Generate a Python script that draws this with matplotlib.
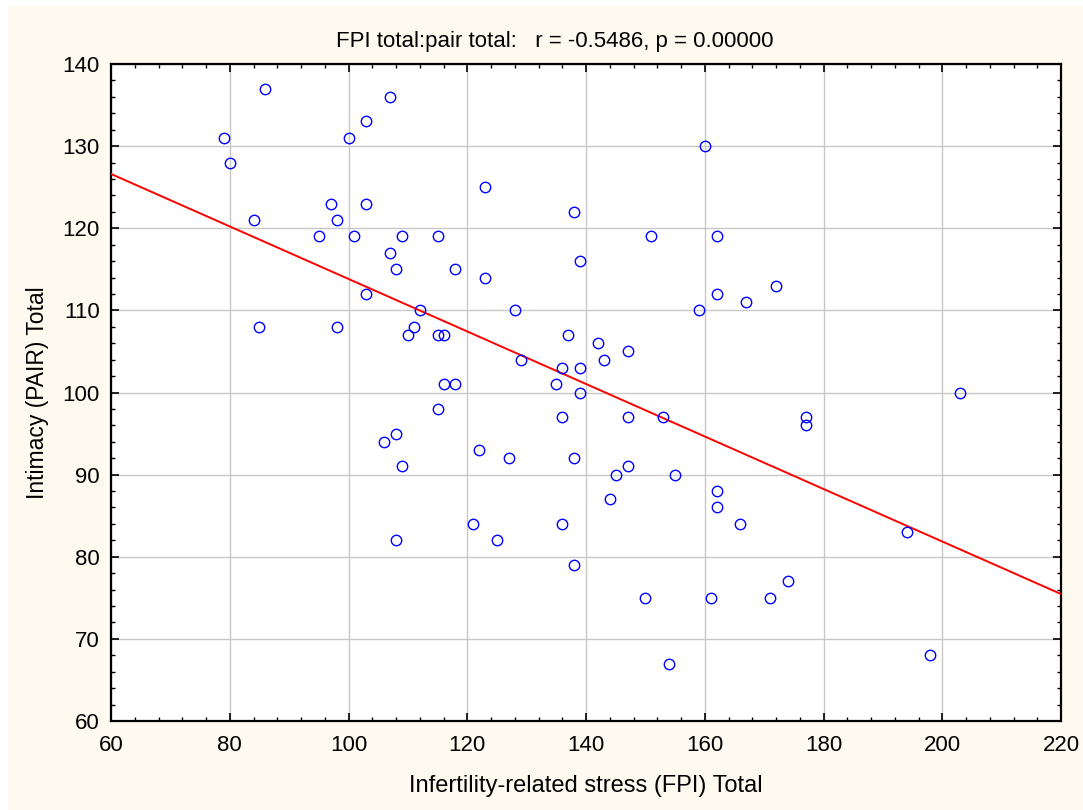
import numpy as np
import matplotlib
matplotlib.use("Agg")
import matplotlib.pyplot as plt
from matplotlib.patches import Rectangle
from matplotlib.ticker import MultipleLocator

plt.rcParams['font.family'] = ['Liberation Sans', 'DejaVu Sans']

fpi_total = [79, 80, 86, 84, 85, 95, 97, 98, 98, 100, 101, 103, 103, 103, 107, 107,
             108, 109, 112, 111, 110, 115, 115, 116, 116, 118, 118, 123, 123, 128,
             129, 115, 106, 108, 109, 122, 127, 121, 125, 108,
             138, 139, 137, 142, 143, 147, 135, 136, 139, 139, 136, 138, 136, 138,
             147, 147, 145, 144, 155, 153, 150, 154, 161, 162, 162, 166, 171, 174,
             177, 177, 194, 198, 203, 160, 151, 162, 162, 167, 172, 159]
pair_total = [131, 128, 137, 121, 108, 119, 123, 121, 108, 131, 119, 133, 123, 112, 136, 117,
              115, 119, 110, 108, 107, 119, 107, 107, 101, 101, 115, 125, 114, 110,
              104, 98, 94, 95, 91, 93, 92, 84, 82, 82,
              122, 116, 107, 106, 104, 105, 101, 103, 103, 100, 97, 92, 84, 79,
              97, 91, 90, 87, 90, 97, 75, 67, 75, 88, 86, 84, 75, 77,
              97, 96, 83, 68, 100, 130, 119, 119, 112, 111, 113, 110]

title_text = "FPI total:pair total:   r = -0.5486, p = 0.00000"
x_label = "Infertility-related stress (FPI) Total"
y_label = "Intimacy (PAIR) Total"

W, H = 1083, 810
fig = plt.figure(figsize=(W / 100, H / 100), dpi=100, facecolor='white')
fig.patches.append(Rectangle((8 / W, 0), 1 - 8 / W, 1 - 6 / H, transform=fig.transFigure,
                             facecolor='#FFFAF0', edgecolor='none', zorder=-10))

ax = fig.add_axes([111 / W, 1 - 721 / H, (1061 - 111) / W, (721 - 64) / H])
ax.set_facecolor('white')

x = np.array(fpi_total, dtype=float)
y = np.array(pair_total, dtype=float)
slope, intercept = np.polyfit(x, y, 1)
xl = np.array([60, 220])
ax.plot(xl, intercept + slope * xl, color='#FF0000', lw=1.4, zorder=3)

ax.plot(x, y, 'o', mfc='none', mec='#0000FF', ms=7.5, mew=1.0, zorder=4)

ax.set_xlim(60, 220)
ax.set_ylim(60, 140)
ax.xaxis.set_major_locator(MultipleLocator(20))
ax.xaxis.set_minor_locator(MultipleLocator(4))
ax.yaxis.set_major_locator(MultipleLocator(10))
ax.yaxis.set_minor_locator(MultipleLocator(2))
ax.grid(True, which='major', color='#C8C8C8', lw=1.0, zorder=0)
ax.set_axisbelow(True)
ax.tick_params(which='both', direction='in', top=True, right=True, colors='black',
               labelsize=16)
ax.tick_params(which='major', length=6, width=1.2)
ax.tick_params(which='minor', length=3, width=1.0)
ax.tick_params(axis='x', which='major', pad=10)
ax.tick_params(axis='y', which='major', pad=8)
for s in ax.spines.values():
    s.set_linewidth(1.6)
    s.set_color('black')

ax.set_title(title_text, fontsize=16, pad=12, x=0.467)
ax.set_xlabel(x_label, fontsize=17, labelpad=14)
ax.set_ylabel(y_label, fontsize=16.5, labelpad=10)

fig.savefig('out.png', dpi=100, facecolor=fig.get_facecolor())
